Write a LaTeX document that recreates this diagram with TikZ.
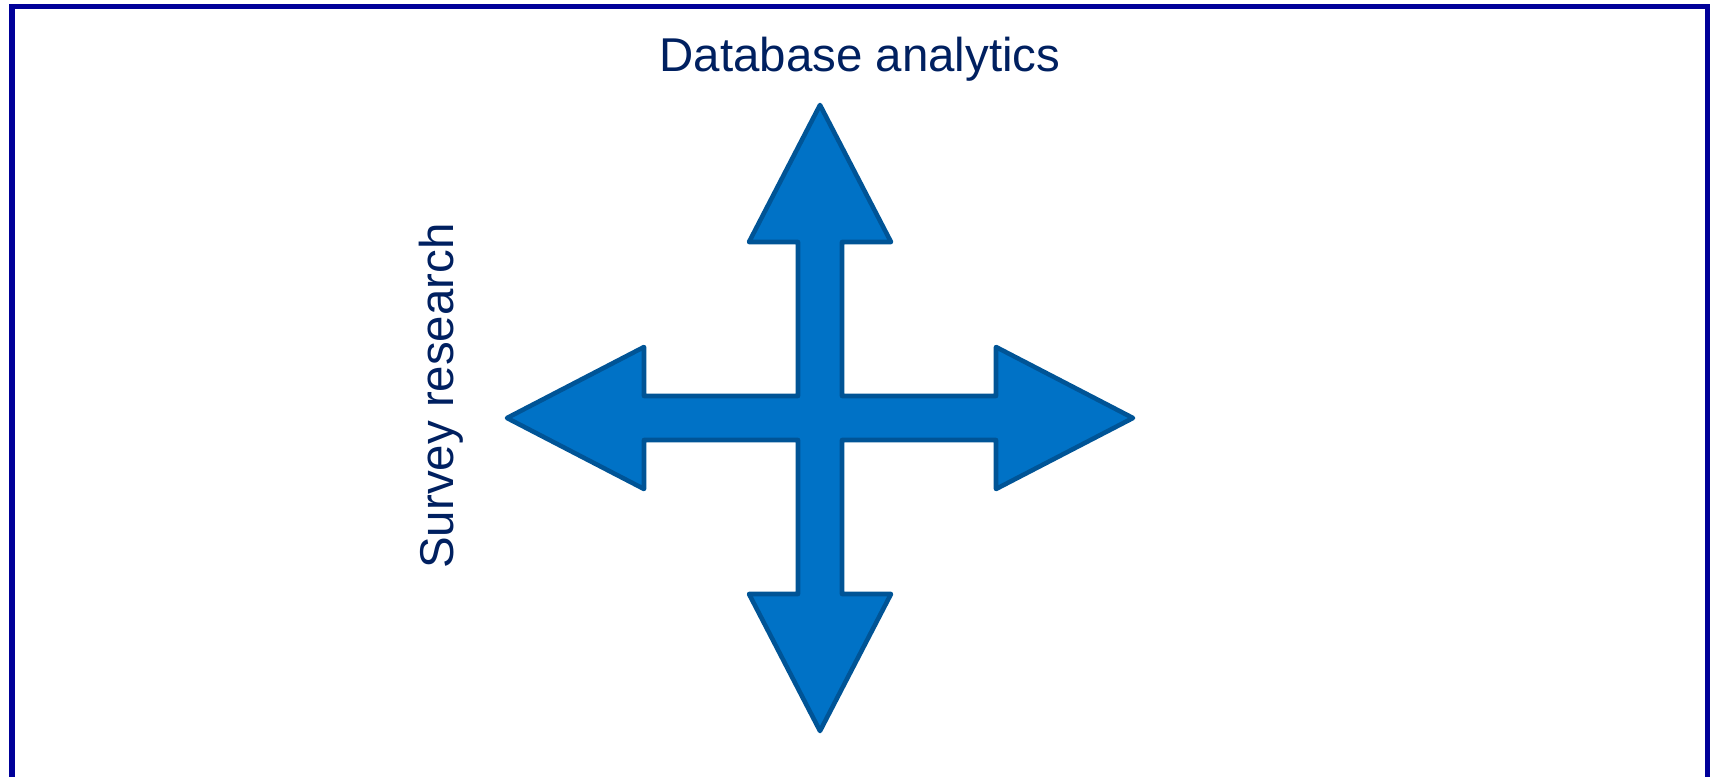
\documentclass[tikz,border=0pt]{standalone}
\usepackage{fontspec}
\setmainfont{Liberation Sans}
\definecolor{frameblue}{RGB}{0,0,153}
\definecolor{textnavy}{RGB}{0,32,96}
\definecolor{crossfill}{RGB}{0,114,198}
\definecolor{crossline}{RGB}{0,84,150}

\begin{document}
\begin{tikzpicture}[x=0.2mm,y=-0.2mm]
\tikzset{ lbl/.style={text=textnavy, inner sep=0pt, font=\fontsize{27}{32}\selectfont}}
\useasboundingbox (0,0) rectangle (1716,776);
\clip (0,0) rectangle (1716,776);

% frame, its bottom edge lies outside
\draw[frameblue, line width=3.3pt] (12,6.5) rectangle (1707.5,800);

% four way arrow
\draw[fill=crossfill, draw=crossline, line width=2.6pt, line join=round]
 (820,105) -- (891,242) -- (842,242) -- (842,396) -- (996,396) -- (996,347)
 -- (1133,418) -- (996,489) -- (996,440) -- (842,440) -- (842,594) -- (891,594)
 -- (820,731) -- (749,594) -- (798,594) -- (798,440) -- (644,440) -- (644,489)
 -- (507,418) -- (644,347) -- (644,396) -- (798,396) -- (798,242) -- (749,242) -- cycle;

\node[lbl] (db) at (860,59) {Database analytics};
\node[lbl, rotate=90] (survey) at (441.5,396) {Survey research};
\end{tikzpicture}
\end{document}
